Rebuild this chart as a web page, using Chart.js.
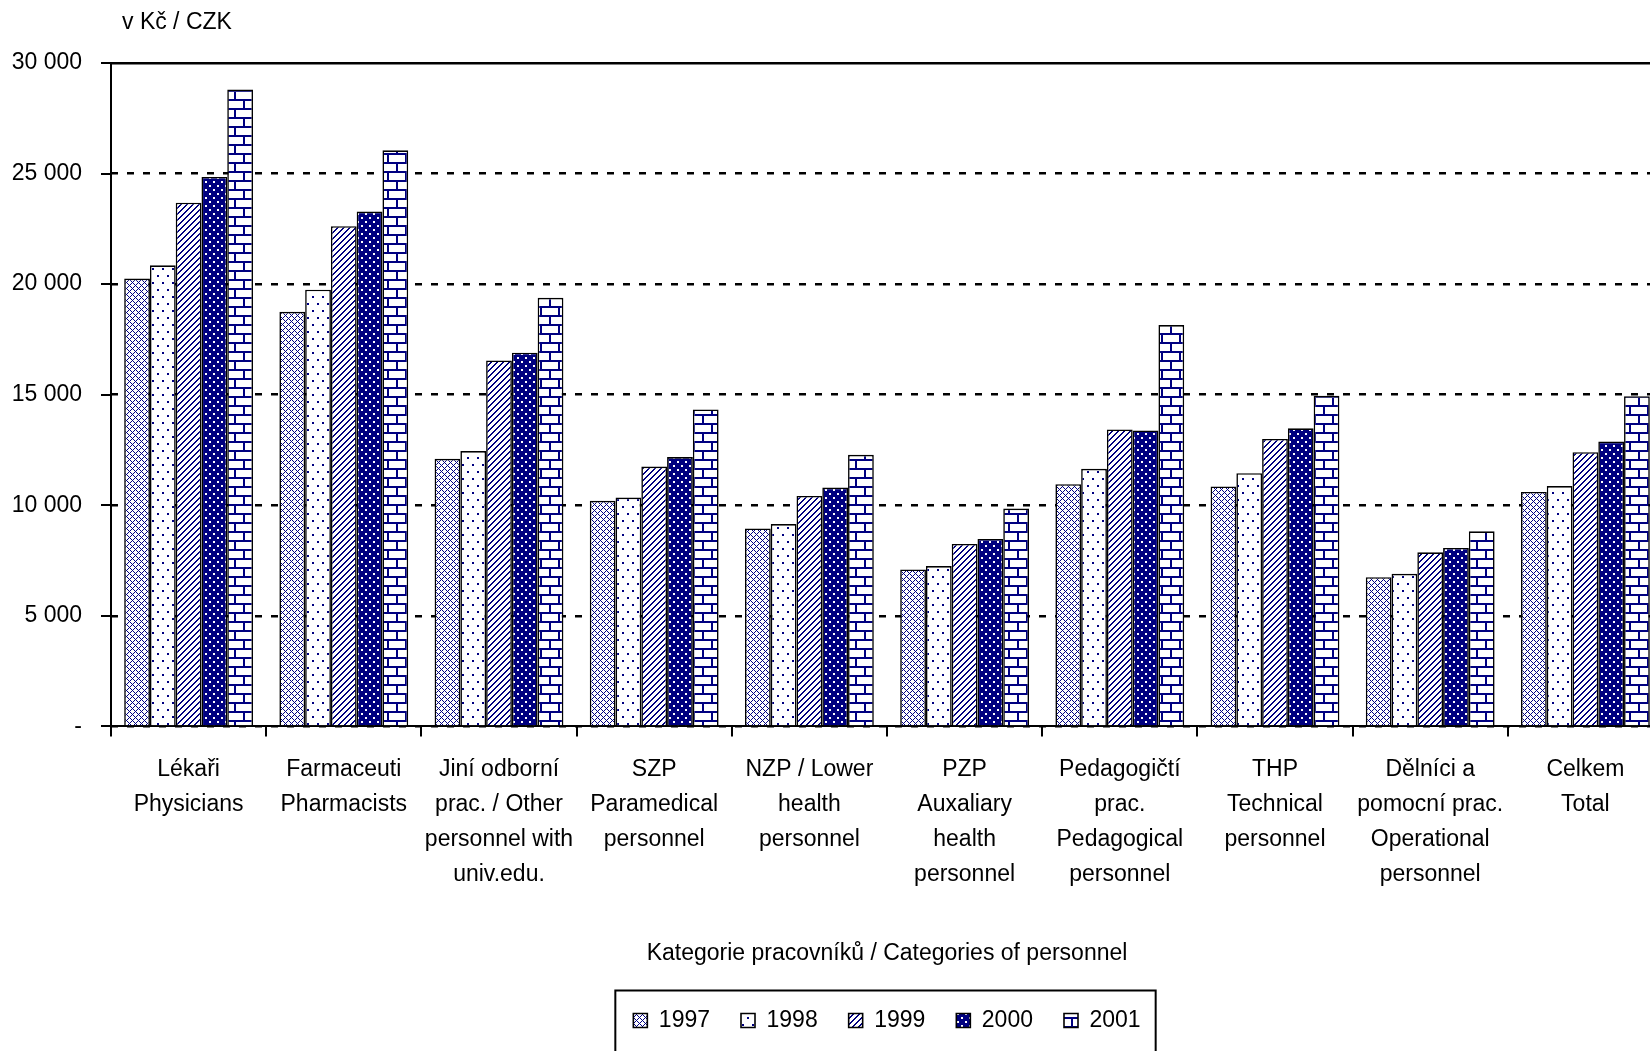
<!DOCTYPE html>
<html>
<head>
<meta charset="utf-8">
<script src="https://cdn.jsdelivr.net/npm/chart.js@4.4.1/dist/chart.umd.min.js"></script>
<style>
  html, body { margin: 0; padding: 0; background: #fff; overflow: hidden; }
  canvas { display: block; }
</style>
</head>
<body>
<canvas id="chart" width="1665" height="1100" style="width:1665px;height:1100px"></canvas>
<script>
// categories of personnel (two-language labels, one array item per line)
var categories = [
  ["Lékaři", "Physicians"],
  ["Farmaceuti", "Pharmacists"],
  ["Jiní odborní", "prac. / Other", "personnel with", "univ.edu."],
  ["SZP", "Paramedical", "personnel"],
  ["NZP / Lower", "health", "personnel"],
  ["PZP", "Auxaliary", "health", "personnel"],
  ["Pedagogičtí", "prac.", "Pedagogical", "personnel"],
  ["THP", "Technical", "personnel"],
  ["Dělníci a", "pomocní prac.", "Operational", "personnel"],
  ["Celkem", "Total"]
];

var years = ["1997", "1998", "1999", "2000", "2001"];

// average monthly wage, Kč
var wages1997 = [20250, 18750, 12100, 10200, 8950, 7100, 10950, 10850, 6750, 10600];
var wages1998 = [20850, 19750, 12450, 10350, 9150, 7250, 11650, 11450, 6900, 10870];
var wages1999 = [23680, 22620, 16550, 11750, 10420, 8250, 13430, 13000, 7870, 12400];
var wages2000 = [24850, 23280, 16900, 12180, 10800, 8480, 13380, 13480, 8070, 12880];
var wages2001 = [28800, 26050, 19380, 14330, 12280, 9850, 18150, 14950, 8820, 14930];

var yTickLabels = ["-", "5 000", "10 000", "15 000", "20 000", "25 000", "30 000"];

var unitLabel = "v Kč / CZK";
var xTitle = "Kategorie pracovníků / Categories of personnel";

var NAVY = "#000080";

// pick a narrow font if one is installed
function hasFont(name) {
  var c = document.createElement("canvas").getContext("2d");
  var s = "abcdefghij 1997 WMQ";
  c.font = "40px monospace";
  var a = c.measureText(s).width;
  c.font = "40px '" + name + "', monospace";
  return c.measureText(s).width !== a;
}
var narrow = hasFont("Liberation Sans Narrow");
var family = narrow ? "'Liberation Sans Narrow', 'Liberation Sans', Arial, sans-serif"
                    : "'Liberation Sans', Arial, sans-serif";
var fsize = narrow ? 26 : 23;

Chart.defaults.color = "#000";
Chart.defaults.font.family = family;
Chart.defaults.font.size = fsize;

var canvas = document.getElementById("chart");
var ctx = canvas.getContext("2d");

// pixel tile patterns like the old spreadsheet fills
function tile(w, h, bg, fg, test) {
  var c = document.createElement("canvas");
  c.width = w; c.height = h;
  var g = c.getContext("2d");
  g.fillStyle = bg;
  g.fillRect(0, 0, w, h);
  g.fillStyle = fg;
  for (var y = 0; y < h; y++) {
    for (var x = 0; x < w; x++) {
      if (test(x, y)) g.fillRect(x, y, 1, 1);
    }
  }
  return ctx.createPattern(c, "repeat");
}

var fills = [
  // 1997 diagonal cross hatch
  tile(6, 6, "#fff", NAVY, function (x, y) { return (x + y) % 6 === 0 || (x - y + 6) % 6 === 0; }),
  // 1998 sparse dots
  tile(10, 14, "#fff", NAVY, function (x, y) {
    return (x >= 2 && x < 4 && y >= 2 && y < 4) || (x >= 7 && x < 9 && y >= 9 && y < 11);
  }),
  // 1999 diagonal stripes
  tile(6, 6, "#fff", NAVY, function (x, y) { return (x + y) % 6 < 2; }),
  // 2000 navy with white dots
  tile(8, 8, NAVY, "#fff", function (x, y) {
    return (x >= 1 && x < 3 && y >= 1 && y < 3) || (x >= 5 && x < 7 && y >= 5 && y < 7);
  }),
  // 2001 bricks
  tile(18, 18, "#fff", NAVY, function (x, y) {
    if (y % 9 < 2) return true;
    if (y < 9) return x < 2;
    return x >= 9 && x < 11;
  })
];

var series = [wages1997, wages1998, wages1999, wages2000, wages2001];

var datasets = series.map(function (d, i) {
  return {
    label: years[i],
    data: d,
    backgroundColor: fills[i],
    borderColor: "#000",
    borderWidth: 1.6,
    barPercentage: 1.0,
    categoryPercentage: 0.83
  };
});

var unitTitle = {
  id: "unitTitle",
  afterDraw: function (chart) {
    var c = chart.ctx;
    c.save();
    c.font = fsize + "px " + family;
    c.fillStyle = "#000";
    c.textAlign = "left";
    c.textBaseline = "middle";
    c.fillText(unitLabel, chart.chartArea.left + 11, 23);
    c.restore();
  }
};

var legendFrame = {
  id: "legendFrame",
  afterDraw: function (chart) {
    var hb = chart.legend.legendHitBoxes;
    if (!hb || !hb.length) return;
    var last = hb[hb.length - 1];
    var x0 = hb[0].left - 18;
    var x1 = last.left + last.width + 15;
    var yc = hb[0].top + hb[0].height / 2;
    var c = chart.ctx;
    c.save();
    c.strokeStyle = "#000";
    c.lineWidth = 2;
    c.strokeRect(x0, yc - 30, x1 - x0, 120);
    c.restore();
  }
};

new Chart(canvas, {
  type: "bar",
  data: {
    labels: categories,
    datasets: datasets
  },
  options: {
    responsive: false,
    animation: false,
    devicePixelRatio: 1,
    layout: { padding: { top: 63, left: 0, right: 2, bottom: 58 } },
    plugins: {
      legend: {
        position: "bottom",
        fullSize: false,
        labels: {
          boxWidth: 14,
          boxHeight: 14,
          padding: 31,
          color: "#000",
          font: { size: fsize }
        }
      },
      tooltip: { enabled: false },
      title: { display: false }
    },
    scales: {
      x: {
        offset: true,
        grid: {
          offset: true,
          drawOnChartArea: false,
          drawTicks: true,
          tickLength: 10,
          color: "#000",
          lineWidth: 2
        },
        border: { display: true, color: "#000", width: 2 },
        ticks: {
          padding: 16,
          maxRotation: 0,
          autoSkip: false,
          font: { size: fsize, lineHeight: "35px" }
        },
        title: {
          display: true,
          text: xTitle,
          padding: { top: 31, bottom: 11 },
          font: { size: fsize }
        }
      },
      y: {
        position: "left",
        weight: 1,
        min: 0,
        max: 30000,
        afterFit: function (s) { s.width = 101; },
        grid: {
          drawTicks: false,
          color: "#000",
          lineWidth: 2.5
        },
        border: {
          display: false,
          dash: function (c) { return c.tick && c.tick.value === 30000 ? [] : [7, 9]; }
        },
        ticks: {
          stepSize: 5000,
          padding: 19,
          font: { size: fsize },
          callback: function (v, i) { return yTickLabels[i]; }
        }
      },
      yTicks: {
        position: "left",
        weight: 0,
        min: 0,
        max: 30000,
        afterFit: function (s) { s.width = 10; },
        grid: {
          drawOnChartArea: false,
          drawTicks: true,
          tickLength: 10,
          color: "#000",
          lineWidth: 2
        },
        border: { display: true, color: "#000", width: 2 },
        ticks: { display: false, stepSize: 5000 }
      }
    }
  },
  plugins: [unitTitle, legendFrame]
});
</script>
</body>
</html>
